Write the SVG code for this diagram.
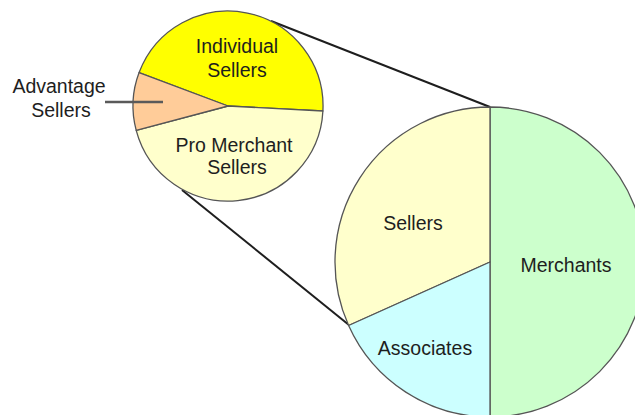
<svg xmlns="http://www.w3.org/2000/svg" width="635" height="415" viewBox="0 0 635 415">
  <style>
    .slice { stroke: #555; stroke-width: 1.3; stroke-linejoin: round; }
    .lbl { font-family: "Liberation Sans", Arial, sans-serif; font-size: 19.5px; fill: #1e1e1e; text-anchor: middle; }
    .conn { stroke: #1e1e1e; stroke-width: 2; fill: none; }
  </style>
  <rect width="635" height="415" fill="#ffffff"/>

  <!-- zoom connectors from the detail pie to the main pie -->
  <g id="connectors">
    <line class="conn" x1="271" y1="21" x2="490" y2="107"/>
    <line class="conn" x1="182" y1="190" x2="349" y2="325"/>
  </g>

  <!-- main pie, centre (490,262), r 155 -->
  <g id="merchants">
    <path class="slice" fill="#ccffcc" d="M490,107 A155,155 0 0 1 490,417 Z"/>
    <text class="lbl" x="566" y="272">Merchants</text>
  </g>
  <g id="sellers">
    <path class="slice" fill="#ffffcc" d="M490,262 L490,107 A155,155 0 0 0 348.6,325.5 Z"/>
    <text class="lbl" x="413" y="230">Sellers</text>
  </g>
  <g id="associates">
    <path class="slice" fill="#ccffff" d="M490,262 L348.6,325.5 A155,155 0 0 0 490,417 Z"/>
    <text class="lbl" x="425" y="355">Associates</text>
  </g>

  <!-- detail pie, centre (228,106), r 95 -->
  <g id="individual-sellers">
    <path class="slice" fill="#ffff00" d="M228,106 L139.1,72.6 A95,95 0 0 1 322.9,111 Z"/>
    <text class="lbl" x="237" y="53">Individual</text>
    <text class="lbl" x="237" y="77">Sellers</text>
  </g>
  <g id="pro-merchant-sellers">
    <path class="slice" fill="#ffffcc" d="M228,106 L322.9,111 A95,95 0 0 1 136.2,130.4 Z"/>
    <text class="lbl" x="234" y="152">Pro Merchant</text>
    <text class="lbl" x="237" y="174">Sellers</text>
  </g>
  <g id="advantage-sellers">
    <path class="slice" fill="#ffcc99" d="M228,106 L136.2,130.4 A95,95 0 0 1 139.1,72.6 Z"/>
    <!-- leader from the label into the slice -->
    <line x1="105" y1="102" x2="163" y2="102" stroke="#5a5a5a" stroke-width="2.5"/>
    <text class="lbl" x="59" y="93">Advantage</text>
    <text class="lbl" x="61" y="117">Sellers</text>
  </g>
</svg>
